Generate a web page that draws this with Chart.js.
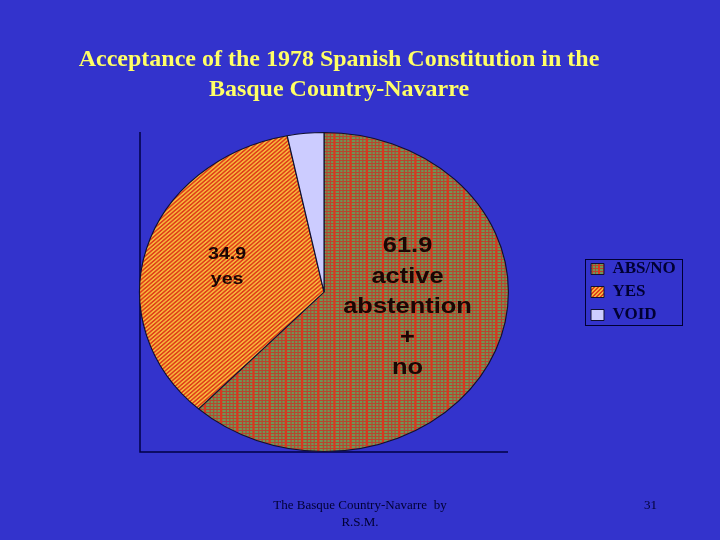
<!DOCTYPE html>
<html><head><meta charset="utf-8">
<script src="https://cdn.jsdelivr.net/npm/chart.js@4/dist/chart.umd.min.js"></script>
<style>
html,body{margin:0;padding:0;width:720px;height:540px;overflow:hidden;background:#3333cc;}
#wrap{position:absolute;left:-42px;top:0;width:762px;height:540px;}
.foot{position:absolute;font-family:"Liberation Serif","Times New Roman",serif;font-size:13px;color:#000033;line-height:17px;white-space:pre;}
</style></head><body>
<div id="wrap"><canvas id="c" width="762" height="540"></canvas></div>
<div class="foot" style="left:240px;top:496px;width:240px;text-align:center;">The Basque Country-Navarre  by
R.S.M.</div>
<div class="foot" style="left:644px;top:496px;">31</div>
<script>
// ---- data ----
const categories = ['ABS/NO', 'YES', 'VOID'];
const shares = [61.9, 34.9, 3.2];
const sliceLabels = [['61.9', 'active', 'abstention', '+', 'no'], ['34.9', 'yes'], []];
const titleLines = ['Acceptance of the 1978 Spanish Constitution in the', 'Basque Country-Navarre'];

// ---- fill patterns ----
function makePattern(w, h, draw) {
  const c = document.createElement('canvas');
  c.width = w; c.height = h;
  const g = c.getContext('2d');
  draw(g);
  return document.getElementById('c').getContext('2d').createPattern(c, 'repeat');
}
const absPattern = makePattern(14, 6, g => {
  g.fillStyle = '#6f9656'; g.fillRect(0, 0, 14, 6);
  g.fillStyle = '#b8442e';
  [1, 4].forEach(y => g.fillRect(0, y, 14, 1));
  [1, 4, 7].forEach(x => g.fillRect(x, 0, 1, 6));
  g.fillStyle = '#d8381f'; g.fillRect(10, 0, 2, 6);
});
const yesPattern = makePattern(4, 4, g => {
  g.fillStyle = '#e0401a'; g.fillRect(0, 0, 4, 4);
  g.fillStyle = '#f6b43a';
  for (let x = 0; x < 4; x++) for (let y = 0; y < 4; y++) if ((x + y) % 4 < 2) g.fillRect(x, y, 1, 1);
});
const sliceFills = [absPattern, yesPattern, '#ccccff'];

const X_STRETCH = 185 / 160;

const layoutFix = {
  id: 'layoutFix',
  afterLayout(chart) {
    const a = chart.chartArea;
    const cx = 366, cy = 292, r = 160;
    a.left = cx - r; a.right = cx + r; a.top = cy - r; a.bottom = cy + r;
    a.width = 2 * r; a.height = 2 * r;
    const lg = chart.legend;
    const w = lg.width;
    lg.left = 627; lg.right = lg.left + w;
    lg.top = a.top; lg.bottom = a.bottom;
  }
};

const frame = {
  id: 'frame',
  beforeDatasetsDraw(chart) {
    const a = chart.chartArea, ctx = chart.ctx;
    const cx = (a.left + a.right) / 2, rx = (a.width / 2) * X_STRETCH;
    ctx.save();
    ctx.strokeStyle = '#000044'; ctx.lineWidth = 1.5;
    ctx.beginPath();
    ctx.moveTo(cx - rx + 1, a.top);
    ctx.lineTo(cx - rx + 1, a.bottom);
    ctx.lineTo(cx + rx - 1, a.bottom);
    ctx.stroke();
    ctx.restore();
  }
};

const ellipse = {
  id: 'ellipse',
  beforeDatasetsDraw(chart) {
    const a = chart.chartArea, ctx = chart.ctx;
    const cx = (a.left + a.right) / 2, cy = (a.top + a.bottom) / 2;
    ctx.save();
    ctx.translate(cx, cy); ctx.scale(X_STRETCH, 1); ctx.translate(-cx, -cy);
  },
  afterDatasetsDraw(chart, args, opts) {
    const ctx = chart.ctx;
    const meta = chart.getDatasetMeta(0);
    meta.data.forEach((arc, i) => {
      const lines = sliceLabels[i];
      if (!lines || !lines.length) return;
      const st = opts.styles[i];
      const p = arc.getCenterPoint();
      const x = p.x + st.dx, y0 = p.y + st.dy - (lines.length - 1) * st.lh / 2;
      ctx.save();
      ctx.fillStyle = '#1a0604';
      ctx.font = 'bold ' + st.size + 'px "Liberation Sans", Arial, sans-serif';
      ctx.textAlign = 'center'; ctx.textBaseline = 'middle';
      lines.forEach((t, k) => ctx.fillText(t, x, y0 + k * st.lh));
      ctx.restore();
    });
    ctx.restore();
  }
};

const legendBorder = {
  id: 'legendBorder',
  afterDraw(chart) {
    const hb = chart.legend.legendHitBoxes;
    if (!hb || !hb.length) return;
    const left = Math.min(...hb.map(b => b.left)) - 6;
    const right = Math.max(...hb.map(b => b.left + b.width)) + 6;
    const top = hb[0].top - 2;
    const bottom = hb[hb.length - 1].top + hb[hb.length - 1].height + 1;
    const ctx = chart.ctx;
    ctx.save();
    ctx.strokeStyle = '#000033'; ctx.lineWidth = 1;
    ctx.strokeRect(Math.round(left) + 0.5, Math.round(top) + 0.5, Math.round(right - left), Math.round(bottom - top));
    ctx.restore();
  }
};

new Chart(document.getElementById('c'), {
  type: 'pie',
  data: {
    labels: categories,
    datasets: [{
      data: shares,
      backgroundColor: sliceFills,
      borderColor: '#101030',
      borderWidth: 1,
      clip: false
    }]
  },
  options: {
    responsive: false,
    animation: false,
    layout: { padding: { bottom: 88 } },
    plugins: {
      title: {
        display: true,
        text: titleLines,
        color: '#ffff66',
        font: { family: '"Liberation Serif", "Times New Roman", serif', size: 24, weight: 'bold', lineHeight: 1.25 },
        padding: { top: 45, bottom: 27 }
      },
      legend: {
        display: true,
        position: 'right',
        labels: {
          color: '#000033',
          font: { family: '"Liberation Serif", "Times New Roman", serif', size: 17, weight: 'bold' },
          boxWidth: 13,
          boxHeight: 11,
          padding: 6
        }
      },
      tooltip: { enabled: false },
      ellipse: {
        styles: [
          { dx: -2, dy: -14, size: 22, lh: 30.5 },
          { dx: -7, dy: -4, size: 17, lh: 25 }
        ]
      }
    }
  },
  plugins: [layoutFix, frame, ellipse, legendBorder]
});
</script>
</body></html>
